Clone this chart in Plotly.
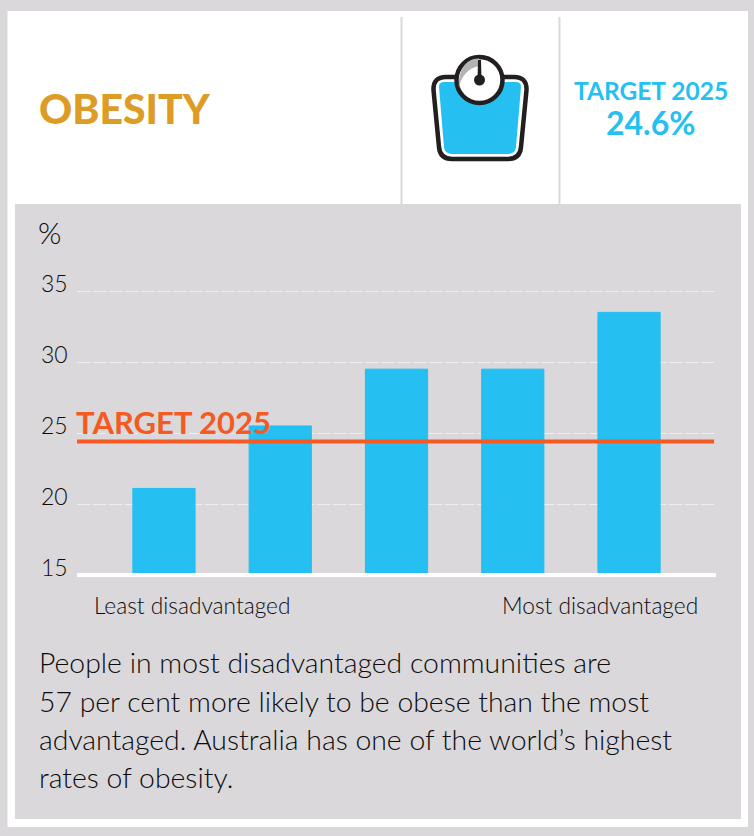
import plotly.graph_objects as go

# ---- data ----
groups = ["Q1", "Q2", "Q3", "Q4", "Q5"]
obesity = [21.1, 25.5, 29.5, 29.5, 33.5]
target_line = 24.4
y_ticks = [15, 20, 25, 30, 35]
group_notes = ["Least disadvantaged", "Most disadvantaged"]
body_lines = [
    "People in most disadvantaged communities are",
    "57 per cent more likely to be obese than the most",
    "advantaged. Australia has one of the world’s highest",
    "rates of obesity.",
]

W, H = 754, 836
OUTER = "#dad8db"
PANEL = "#dad8db"
BLUE = "#25bff2"
ORANGE = "#f45a22"
GOLD = "#dc9c26"
INK = "#0d0b0c"
FONT = "Lato"


def px(x):
    return x / W


def py(y):
    return 1 - y / H


def rect(x0, y0, x1, y1, color, layer="below"):
    return dict(type="rect", xref="paper", yref="paper", x0=px(x0), x1=px(x1),
                y0=py(y1), y1=py(y0), fillcolor=color, line_width=0, layer=layer)


def path(points, fill=None, line=None, width=0):
    d = ""
    for cmd, *coords in points:
        d += cmd + " " + " ".join(
            f"{px(coords[i]):.5f},{py(coords[i + 1]):.5f}" for i in range(0, len(coords), 2)
        ) + " "
    return dict(type="path", xref="paper", yref="paper", path=d + "Z",
                fillcolor=fill or "rgba(0,0,0,0)", line=dict(color=line or "rgba(0,0,0,0)", width=width),
                layer="above")


def circle(cx, cy, r, fill, line=None, width=0):
    return dict(type="circle", xref="paper", yref="paper", x0=px(cx - r), x1=px(cx + r),
                y0=py(cy + r), y1=py(cy - r), fillcolor=fill,
                line=dict(color=line or "rgba(0,0,0,0)", width=width), layer="above")


def label(text, x, y, size, color=INK, anchor="left", weight=300):
    return dict(text=text, xref="paper", yref="paper", x=px(x), y=py(y), xanchor=anchor,
                yanchor="middle", showarrow=False, align=anchor,
                font=dict(family=FONT, size=size, color=color, weight=weight))


fig = go.Figure(
    go.Bar(x=groups, y=obesity, width=0.535, marker=dict(color=BLUE, line=dict(color="#1fc0f5", width=1)),
           hoverinfo="skip", showlegend=False)
)

shapes = [
    rect(7.5, 11, 748, 827, "white"),
    rect(15, 204, 741, 819, PANEL),
    rect(400.5, 17, 402.5, 204, OUTER),
    rect(558.5, 17, 560.5, 204, OUTER),
    # scale icon
    path([("M", 446, 77), ("L", 514, 77), ("Q", 527, 77, 526.5, 90), ("L", 521, 147),
          ("Q", 520, 159, 508, 159), ("L", 452, 159), ("Q", 440, 159, 439, 147),
          ("L", 433.5, 90), ("Q", 433, 77, 446, 77)], fill="white", line="#231f20", width=4.5),
    path([("M", 444, 82), ("L", 516, 82), ("Q", 521, 82, 521, 87), ("L", 516, 147),
          ("Q", 515.5, 154, 508, 154), ("L", 452, 154), ("Q", 444.5, 154, 444, 147),
          ("L", 439, 87), ("Q", 439, 82, 444, 82)], fill=BLUE),
    circle(479.5, 80, 23, "white", "#231f20", 4.5),
    path([("M", 479, 58.5), ("C", 466, 58, 458, 70, 459, 88), ("Q", 462, 70, 479, 66)], fill="#b4b4b6"),
    path([("M", 478, 60), ("L", 481, 60), ("L", 481.5, 80), ("L", 477.5, 80)], fill="#231f20"),
    circle(479.5, 80, 5.5, "#231f20"),
    # target line drawn on the chart's own scale
    dict(type="line", xref="x domain", yref="y", x0=0, x1=0.997, y0=target_line, y1=target_line,
         line=dict(color=ORANGE, width=4), layer="above"),
    dict(type="line", xref="x domain", yref="y", x0=0, x1=1, y0=y_ticks[0], y1=y_ticks[0],
         line=dict(color="white", width=4), layer="above"),
]

annotations = [
    label("OBESITY", 37, 108.5, 41, GOLD, weight=900),
    label("TARGET 2025", 651, 91, 24.5, BLUE, "center", 700),
    label("24.6%", 651, 122, 32, BLUE, "center", 700),
    label("%", 36, 232, 30),
    label("TARGET 2025", 74, 422, 31, ORANGE, weight=700),
    label(group_notes[0], 192, 605, 22.7, anchor="center"),
    label(group_notes[1], 600, 605, 22.7, anchor="center"),
]
for text, y in zip(body_lines, [662, 701, 739, 777]):
    annotations.append(label(text, 37, y, 28.4))
# y-axis numbers sit just above their gridlines, on the chart's own scale
for tick in y_ticks:
    annotations.append(dict(text=str(tick), xref="paper", yref="y", x=px(70), y=tick, xanchor="right",
                            yanchor="middle", yshift=8, showarrow=False,
                            font=dict(family=FONT, size=23, color=INK, weight=300)))

fig.update_layout(
    width=W, height=H, autosize=False, margin=dict(l=0, r=0, t=0, b=0),
    paper_bgcolor=OUTER, plot_bgcolor="rgba(0,0,0,0)",
    shapes=shapes, annotations=annotations, showlegend=False,
    xaxis=dict(domain=[px(77), px(716)], range=[-0.748, 4.748], showgrid=False, showticklabels=False,
               ticks="", zeroline=False, showline=False, fixedrange=True, automargin=False),
    yaxis=dict(domain=[py(577), py(284)], range=[14.86, 35.5], tickvals=y_ticks, ticks="",
               showticklabels=False,
               showgrid=True, gridcolor="#efeef0", gridwidth=1.3, griddash="13px,3px",
               zeroline=False, showline=False, fixedrange=True, automargin=False),
)
fig.write_html("out.html", config=dict(displayModeBar=False),
               post_script="document.body.style.margin='0';")
